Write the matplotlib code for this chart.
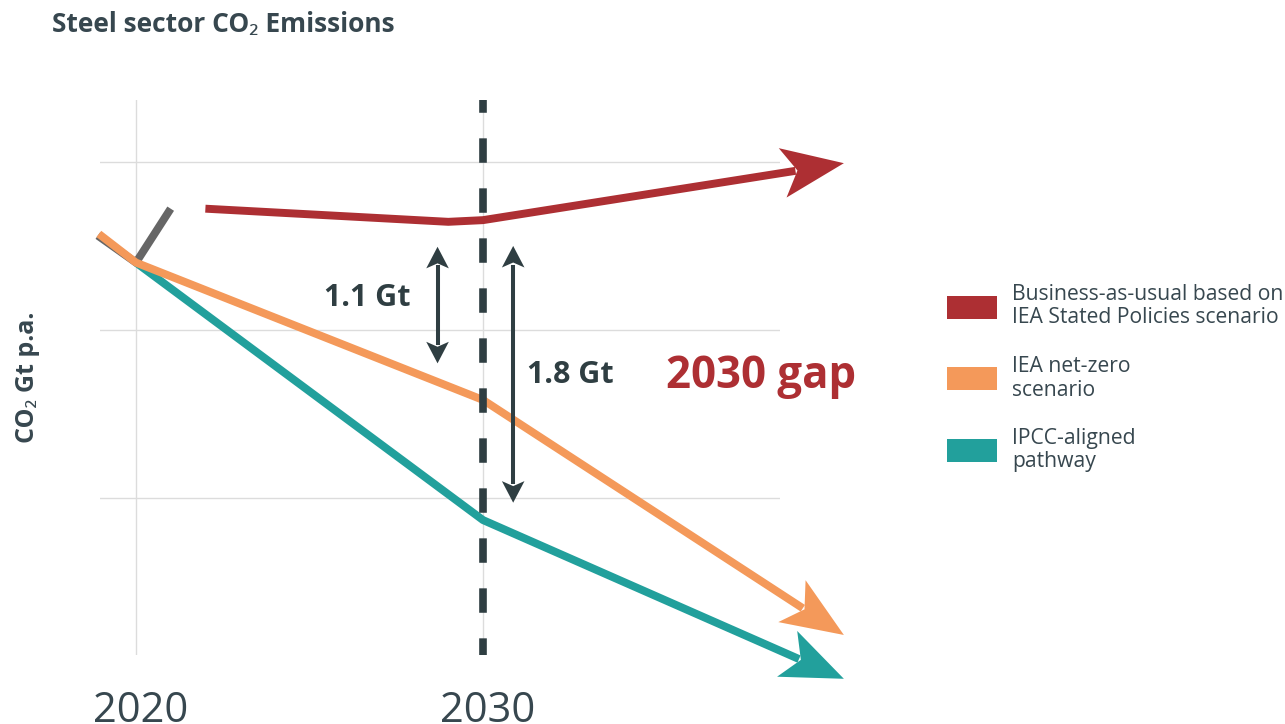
import numpy as np
import matplotlib
matplotlib.use("Agg")
import matplotlib.pyplot as plt
from matplotlib.patches import Polygon, Rectangle
import matplotlib.transforms as mtransforms

# ---------------- data ----------------
hist_years = [2018.9, 2020, 2021]
hist_vals = [2.56, 2.40, 2.72]

bau_years = [2022, 2029, 2030, 2040.4]
bau_vals = [2.72, 2.642, 2.652, 2.99]

nz_years = [2018.93, 2020, 2030, 2040.4]
nz_vals = [2.57, 2.40, 1.585, 0.19]

ipcc_years = [2020, 2030, 2040.4]
ipcc_vals = [2.40, 0.872, -0.07]

gap_small_x, gap_small_top, gap_small_bottom = 2028.69, 2.494, 1.802
gap_big_x, gap_big_top, gap_big_bottom = 2030.87, 2.499, 0.975

xtick_years = [2020, 2030]
xtick_labels = ["2020", "2030"]
ygrid_vals = [1, 2, 3]

legend_labels = ["Business-as-usual based on\nIEA Stated Policies scenario",
                 "IEA net-zero\nscenario",
                 "IPCC-aligned\npathway"]

RED = "#ad2f33"
ORANGE = "#f4995a"
TEAL = "#22a09c"
GRAY = "#666666"
DARK = "#2f3e42"
TEXT = "#37474f"
GRID = "#dcdcdc"

FONT = ["Open Sans", "Noto Sans", "DejaVu Sans"]
plt.rcParams["font.family"] = FONT
plt.rcParams["lines.scale_dashes"] = False

W, H, DPI = 1285, 724, 100
fig = plt.figure(figsize=(W / DPI, H / DPI), dpi=DPI)


def fx(x):
    return x / W


def fy(y):
    return 1 - y / H


# axes box in pixels: left 100, right 780, top 100, bottom 655
ax = fig.add_axes([fx(100), fy(655), (780 - 100) / W, (655 - 100) / H])
ax.set_xlim(2018.963, 2038.559)
ax.set_ylim(0.0712, 3.365)
for s in ax.spines.values():
    s.set_visible(False)
ax.set_xticks(xtick_years)
ax.set_yticks(ygrid_vals)
ax.set_xticklabels([])
ax.set_yticklabels([])
ax.tick_params(length=0)
ax.grid(True, color=GRID, lw=1.0)
ax.set_axisbelow(True)

LW = 5.7  # pt (~8 px)


def stealth(x_tip, y_tip, x_from, y_from, L, Wd, notch, color, z):
    """Notched arrow head with its tip at a data point, pointing away from x_from,y_from.
    Returns data coords of the notch so that the shaft can stop there."""
    p1 = ax.transData.transform((x_from, y_from))
    p2 = ax.transData.transform((x_tip, y_tip))
    d = p2 - p1
    ang = np.arctan2(d[1], d[0])
    verts = np.array([[0, 0], [-L, Wd], [-notch, 0], [-L, -Wd]]) / DPI
    tr = (mtransforms.Affine2D().rotate(ang) + fig.dpi_scale_trans
          + mtransforms.ScaledTranslation(x_tip, y_tip, ax.transData))
    ax.add_patch(Polygon(verts, closed=True, transform=tr, facecolor=color,
                         edgecolor="none", zorder=z, clip_on=False))
    u = d / np.hypot(*d)
    back = p2 - u * (notch + 2)
    return ax.transData.inverted().transform(back)


def series(xs, ys, color, z, arrow=True):
    xs = list(xs)
    ys = list(ys)
    if arrow:
        bx, by = stealth(xs[-1], ys[-1], xs[-2], ys[-2], 62, 25, 47, color, z)
        xs[-1], ys[-1] = bx, by
    ax.plot(xs, ys, color=color, lw=LW, solid_capstyle="butt",
            solid_joinstyle="round", zorder=z, clip_on=False)


series(hist_years, hist_vals, GRAY, 3, arrow=False)
series(ipcc_years, ipcc_vals, TEAL, 4)
series(nz_years, nz_vals, ORANGE, 5)
series(bau_years, bau_vals, RED, 6)

# dashed 2030 marker (drawn from the top down)
ylo, yhi = ax.get_ylim()
ax.plot([2030, 2030], [yhi, ylo], color=DARK, lw=5.5,
        dash_capstyle="butt", linestyle=(8.4, (17.6, 18.4)),
        zorder=8, clip_on=False)


def double_arrow(x, top, bottom):
    L, Wd, notch = 21.6, 11.3, 16.6
    a = stealth(x, top, x, bottom, L, Wd, notch, DARK, 7)
    b = stealth(x, bottom, x, top, L, Wd, notch, DARK, 7)
    ax.plot([a[0], b[0]], [a[1], b[1]], color=DARK, lw=2.9,
            solid_capstyle="butt", zorder=7)


double_arrow(gap_small_x, gap_small_top, gap_small_bottom)
double_arrow(gap_big_x, gap_big_top, gap_big_bottom)

# ---------------- texts ----------------
fig.text(fx(52), fy(32), "Steel sector CO\u2082 Emissions", fontsize=19,
         fontweight="bold", color=TEXT, ha="left", va="baseline")
fig.text(fx(28), fy(377), "CO\u2082 Gt p.a.", fontsize=18, fontweight="bold",
         color=TEXT, rotation=90, ha="center", va="center")

fig.text(fx(367), fy(306), "1.1 Gt", fontsize=22, fontweight="bold",
         color=DARK, ha="center", va="baseline")
fig.text(fx(570), fy(383), "1.8 Gt", fontsize=22, fontweight="bold",
         color=DARK, ha="center", va="baseline")
fig.text(fx(761), fy(388), "2030 gap", fontsize=31.5, fontweight="bold",
         color=RED, ha="center", va="baseline")

xt = mtransforms.blended_transform_factory(ax.transData, fig.transFigure)
off = mtransforms.ScaledTranslation(5 / DPI, 0, fig.dpi_scale_trans)
for yr, lab in zip(xtick_years, xtick_labels):
    ax.text(yr, fy(722), lab, transform=xt + off, fontsize=30, color=TEXT,
            ha="center", va="baseline", clip_on=False)

# ---------------- legend ----------------
leg_colors = [RED, ORANGE, TEAL]
leg_patch_top = [296, 367, 439]
leg_base = [300, 372, 444]
for col, top, base, lab in zip(leg_colors, leg_patch_top, leg_base, legend_labels):
    fig.patches.append(Rectangle((fx(947), fy(top + 23)), 50 / W, 23 / H,
                                 transform=fig.transFigure, facecolor=col,
                                 edgecolor="none"))
    for i, line in enumerate(lab.split("\n")):
        fig.text(fx(1012), fy(base + i * 23.5), line, fontsize=15.2, color=TEXT,
                 ha="left", va="baseline")

fig.savefig("out.png", dpi=DPI)
